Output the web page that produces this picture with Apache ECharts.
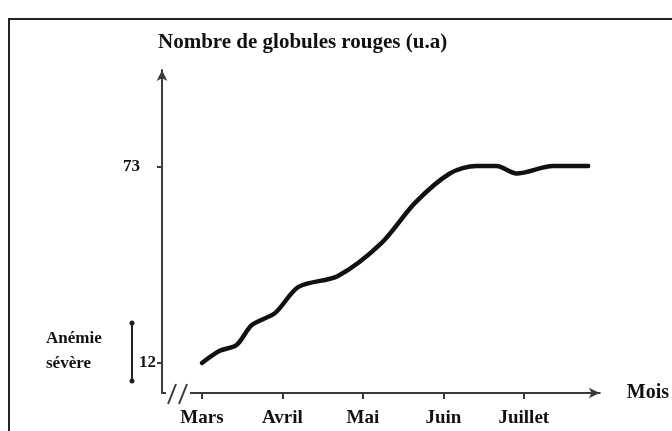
<!DOCTYPE html>
<html>
<head>
<meta charset="utf-8">
<script src="https://cdn.jsdelivr.net/npm/echarts@6/dist/echarts.min.js"></script>
<style>
  html, body { margin: 0; padding: 0; background: #fff; }
  #chart { width: 672px; height: 431px; }
</style>
</head>
<body>
<div id="chart"></div>
<script>
// months on x (0 = Mars), values in u.a
const monthNames = ['Mars', 'Avril', 'Mai', 'Juin', 'Juillet']
const monthTicks = [0, 1, 2, 3, 4]
const yTicks = [12, 73]
const xMonths = [0, 0.22, 0.43, 0.62, 0.91, 1.2, 1.69, 2.23, 2.65, 3.08, 3.41, 3.66, 3.91, 4.36, 4.8]
const globules = [12, 15.8, 17.6, 23.8, 27.6, 35.7, 39.1, 49.3, 61.9, 71, 73.3, 73.3, 71, 73.3, 73.3]

const serif = '"Liberation Serif", "Times New Roman", serif'
const axisColor = '#3a3a3a'

const chart = echarts.init(document.getElementById('chart'))

const option = {
  animation: false,
  grid: { left: 162, right: 72, top: 70, bottom: 38 },
  xAxis: {
    type: 'value',
    min: -0.497,
    max: 4.944,
    name: 'Mois',
    nameLocation: 'end',
    nameGap: 27,
    nameTextStyle: { fontFamily: serif, fontWeight: 'bold', fontSize: 20, color: '#111', align: 'left' },
    axisLine: { show: true, onZero: false, symbol: ['none', 'arrow'], symbolSize: [8, 11], lineStyle: { color: axisColor, width: 2 } },
    axisTick: { show: true, customValues: monthTicks, length: 6, lineStyle: { color: axisColor, width: 2 } },
    axisLabel: {
      customValues: monthTicks,
      margin: 16,
      fontFamily: serif, fontWeight: 'bold', fontSize: 19, color: '#111',
      formatter: v => monthNames[Math.round(v)]
    },
    splitLine: { show: false }
  },
  yAxis: {
    type: 'value',
    min: 2.66,
    max: 103.2,
    name: 'Nombre de globules rouges (u.a)',
    nameLocation: 'end',
    nameGap: 17,
    nameTextStyle: { fontFamily: serif, fontWeight: 'bold', fontSize: 21, color: '#111', align: 'left', padding: [0, 0, 0, -4] },
    axisLine: { show: true, onZero: false, symbol: ['none', 'arrow'], symbolSize: [8, 11], lineStyle: { color: axisColor, width: 2 } },
    axisTick: { show: true, customValues: yTicks, length: 5, lineStyle: { color: axisColor, width: 2 } },
    axisLabel: {
      customValues: yTicks,
      margin: 6,
      fontFamily: serif, fontWeight: 'bold', fontSize: 17, color: '#111',
      formatter: v => v === 73 ? '{far|73}' : String(v),
      rich: { far: { fontFamily: serif, fontWeight: 'bold', fontSize: 17, color: '#111', padding: [0, 16, 0, 0] } }
    },
    splitLine: { show: false }
  },
  series: [{
    type: 'line',
    data: xMonths.map((m, i) => [m, globules[i]]),
    smooth: 0.3,
    symbol: 'none',
    lineStyle: { color: '#111', width: 4.5, cap: 'round', join: 'round' },
    z: 5
  }],
  graphic: [
    // frame
    { type: 'rect', shape: { x: 9, y: 19, width: 700, height: 450 }, style: { fill: 'none', stroke: '#222', lineWidth: 2 }, z: 10 },
    // axis break
    { type: 'rect', shape: { x: 166, y: 388, width: 24, height: 10 }, style: { fill: '#fff' }, z: 10 },
    { type: 'line', shape: { x1: 176, y1: 384, x2: 168, y2: 404 }, style: { stroke: axisColor, lineWidth: 2 }, z: 11 },
    { type: 'line', shape: { x1: 187, y1: 384, x2: 179, y2: 404 }, style: { stroke: axisColor, lineWidth: 2 }, z: 11 },
    // severe anaemia bracket
    { type: 'line', shape: { x1: 132, y1: 323, x2: 132, y2: 381 }, style: { stroke: '#222', lineWidth: 2 }, z: 10 },
    { type: 'circle', shape: { cx: 132, cy: 323, r: 2.5 }, style: { fill: '#222' }, z: 10 },
    { type: 'circle', shape: { cx: 132, cy: 381, r: 2.5 }, style: { fill: '#222' }, z: 10 },
    { type: 'text', left: 46, top: 326, style: { text: 'Anémie\nsévère', font: 'bold 17px ' + serif, fill: '#111', lineHeight: 25 }, z: 10 }
  ]
}

chart.setOption(option)
</script>
</body>
</html>
